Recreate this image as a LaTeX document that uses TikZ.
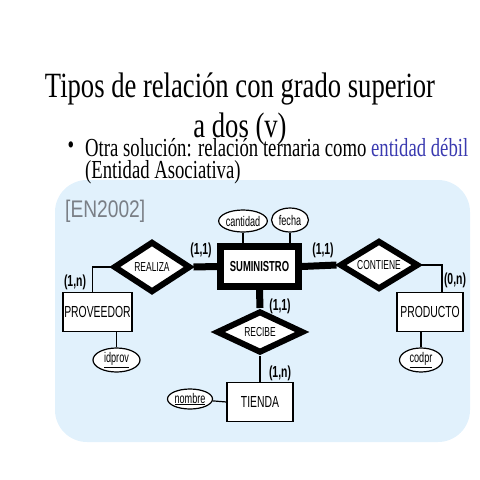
\documentclass[tikz,border=0pt]{standalone}
\usepackage{fontspec}
\setmainfont[FakeStretch=0.75]{Liberation Serif}
\newfontfamily\bodyfont[FakeStretch=0.72]{Liberation Serif}
\newfontfamily\erfont[FakeStretch=0.65]{Liberation Sans}
\newfontfamily\tagfont[FakeStretch=0.8]{Liberation Sans}
\usetikzlibrary{shapes.geometric, positioning}
\definecolor{cpanel}{HTML}{E1F1FC}
\definecolor{cblue}{HTML}{3A3AB0}
\definecolor{cgrey}{HTML}{7A7F86}
\tikzset{
  entity/.style={draw, fill=white, line width=1.2pt, minimum width=#1, minimum height=39pt, inner sep=0pt, font=\erfont\fontsize{16}{16}\selectfont},
  entity/.default=66pt,
  weakbox/.style={draw, fill=white, line width=7pt, minimum width=78pt, minimum height=40pt, inner sep=0pt, font=\erfont\bfseries\fontsize{14.5}{14.5}\selectfont},
  relbox/.style={diamond, draw, fill=white, line width=6pt, aspect=2, inner sep=0pt, font=\erfont\fontsize{13}{13}\selectfont},
  attr/.style={ellipse, draw, fill=white, line width=1.2pt, inner sep=0pt, minimum width=45pt, minimum height=22pt, font=\erfont\fontsize{14}{14}\selectfont},
  card/.style={font=\erfont\bfseries\fontsize{16}{16}\selectfont},
  link/.style={line width=1.2pt},
  strong/.style={line width=7pt},
  title/.style={font=\fontsize{35.5}{40}\selectfont},
  bodytext/.style={font=\bodyfont\fontsize{26}{22}\selectfont},
}

\begin{document}
\begin{tikzpicture}[x=1pt, y=-1pt]
  \useasboundingbox (0,0) rectangle (480,480);
  \fill[cpanel, rounded corners=32pt] (55,180) rectangle (470,442);

  \node (title1) [title, anchor=base] at (240,97) {Tipos de relación con grado superior};
  \node (title2) [title, anchor=base] at (240,137) {a dos (v)};
  \node (dot) [bodytext] at (71,148) {\textbullet};
  \node (line1) [bodytext, anchor=base west, inner sep=0pt] at (85,156) {Otra solución: relación ternaria como \textcolor{cblue}{entidad débil}};
  \node (line2) [bodytext, anchor=base west, inner sep=0pt] at (85,178) {(Entidad Asociativa)};
  \node (ref) [text=cgrey, font=\tagfont\fontsize{24}{24}\selectfont, anchor=west, inner sep=0pt] at (65,211) {[EN2002]};

  % entities and relationships
  \node (sum) [weakbox] at (259.5,266.5) {SUMINISTRO};
  \node (realiza) [relbox, minimum width=77pt, minimum height=51pt] at (152,267) {REALIZA};
  \node (contiene) [relbox, minimum width=79pt, minimum height=49pt] at (379,265) {CONTIENE};
  \node (recibe) [relbox, minimum width=87pt, minimum height=42pt] at (260,332) {RECIBE};
  \node (prov) [entity=69pt] at (97.5,312) {PROVEEDOR};
  \node (prod) [entity] at (430,312) {PRODUCTO};
  \node (tienda) [entity] at (260,402) {TIENDA};

  % attributes
  \node (cant) [attr] at (243,221) {cantidad};
  \node (fecha) [attr, minimum width=37pt, minimum height=24pt] at (290,220) {fecha};
  \node (idprov) [attr, minimum width=47pt, minimum height=24pt] at (116.5,360) {\underline{idprov}};
  \node (codpr) [attr, minimum width=43pt, minimum height=24pt] at (421,360) {\underline{codpr}};
  \node (nombre) [attr, minimum height=20pt] at (190,399) {\underline{nombre}};

  \draw[strong] (realiza.east) -- (sum.west);
  \draw[strong] (sum.east) -- (contiene.west);
  \draw[strong] (sum.south) -- (recibe.north);
  \draw[link] (realiza.west) -| ([xshift=-5pt]prov.north);
  \draw[link] (contiene.east) -| ([xshift=12pt]prod.north);
  \draw[link] (recibe.south) -- (tienda.north);
  \draw[link] (cant) -- (cant |- sum.north);
  \draw[link] (fecha) -- (fecha |- sum.north);
  \draw[link] (idprov) -- (idprov |- prov.south);
  \draw[link] (codpr) -- (codpr |- prod.south);
  \draw[link] (nombre) -- (tienda.west);

  \node (c1) [card] at (201,250) {(1,1)};
  \node (c2) [card] at (323,250) {(1,1)};
  \node (c3) [card] at (75,282) {(1,n)};
  \node (c4) [card] at (455,280) {(0,n)};
  \node (c5) [card] at (280,306) {(1,1)};
  \node (c6) [card] at (280,373) {(1,n)};
\end{tikzpicture}
\end{document}
